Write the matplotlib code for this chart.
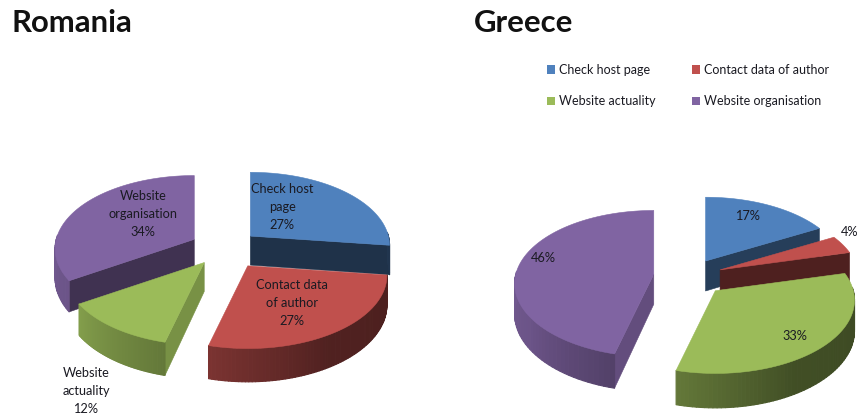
import numpy as np
import matplotlib
matplotlib.use("Agg")
import matplotlib.pyplot as plt
from matplotlib.collections import PolyCollection
from matplotlib.colors import to_rgb
from matplotlib.patches import Patch

categories = ["Check host page", "Website actuality", "Contact data of author", "Website organisation"]
colors = ["#4f81bd", "#c0504d", "#9bbb59", "#8064a2"]
legend_colors = ["#4f81bd", "#9bbb59", "#c0504d", "#8064a2"]
romania_values = [27, 27, 12, 34]
greece_values = [17, 4, 33, 46]
romania_explode = [0.25, 0.30, 0.25, 0.25]
greece_explode = [0.25, 0.25, 0.28, 0.25]

# Projection of the tilted pie, in figure pixels
RX, RY, PERSP = 138.0, 72.0, 0.129
TEXT = "#1a1a22"
FONT = "Lato"

plt.rcParams["font.family"] = FONT


def project(theta, origin, drop=0.0):
    """Map a rim angle (clockwise from the back) to screen pixels around origin."""
    u, v = np.sin(theta), np.cos(theta)
    w = 1 + PERSP * v
    return origin[0] + RX * u / w, origin[1] - RY * v / w + drop / w


def shade(color, factor):
    return tuple(c * factor for c in to_rgb(color))


def rim_shade(deg):
    return np.interp(deg % 360, [0, 90, 110, 150, 194, 237, 270, 360],
                     [0.42, 0.42, 0.40, 0.42, 0.64, 0.84, 0.88, 0.88])


def draw_pie(ax, values, explode, center, depth):
    edges = np.cumsum([0] + list(values)) / sum(values) * 2 * np.pi
    mids = (edges[:-1] + edges[1:]) / 2
    for i in np.argsort(-np.cos(mids)):
        a0, a1, mid, col = edges[i], edges[i + 1], mids[i], colors[i]
        origin = (center[0] + explode[i] * RX * np.sin(mid),
                  center[1] - explode[i] * RY * np.cos(mid))

        # Cut faces turned towards the viewer
        for theta, sign in ((a0, -1), (a1, 1)):
            nx, ny = sign * np.cos(theta), -sign * np.sin(theta)
            if ny < -1e-6:
                tx, ty = project(theta, origin)
                bx, by = project(theta, origin, depth)
                ax.fill([origin[0], tx, bx, origin[0]],
                        [origin[1], ty, by, origin[1] + depth],
                        color=shade(col, 0.38 + 0.42 * nx ** 2), lw=0.4)

        # Outer wall, shaded strip by strip; only the front of the rim shows
        th = np.linspace(a0, a1, 80)
        xt, yt = project(th, origin)
        xb, yb = project(th, origin, depth)
        front = [j for j in range(len(th) - 1) if np.cos((th[j] + th[j + 1]) / 2) < 0.05]
        quads = [[(xt[j], yt[j]), (xt[j + 1], yt[j + 1]), (xb[j + 1], yb[j + 1]), (xb[j], yb[j])]
                 for j in front]
        tones = [shade(col, rim_shade(np.degrees((th[j] + th[j + 1]) / 2))) for j in front]
        if quads:
            ax.add_collection(PolyCollection(quads, facecolors=tones, edgecolors=tones,
                                             linewidths=0.8), autolim=False)

        # Top surface
        ax.fill(np.r_[origin[0], xt], np.r_[origin[1], yt], color=col, lw=0.4)


fig = plt.figure(figsize=(8.58, 4.16), dpi=100)
ax = fig.add_axes([0, 0, 1, 1])
ax.set_xlim(0, 858)
ax.set_ylim(416, 0)
ax.axis("off")

draw_pie(ax, romania_values, romania_explode, (224.5, 248), 29)
draw_pie(ax, greece_values, greece_explode, (688, 276.5), 30)

ax.text(12, 23, "Romania", fontsize=22.4, fontweight="bold", color="#111111", va="center")
ax.text(474, 23, "Greece", fontsize=22.4, fontweight="bold", color="#111111", va="center")

# Slice captions
label_style = dict(fontsize=9.2, color=TEXT, ha="center", va="center", linespacing=1.62, clip_on=True)
romania_lines = ["Check host\npage", "Contact data\nof author", "Website\nactuality", "Website\norganisation"]
for text, value, pos in zip(romania_lines, romania_values,
                            [(282, 207), (292, 303), (86, 391), (143, 214)]):
    ax.text(*pos, f"{text}\n{value}%", **label_style)
for value, pos in zip(greece_values, [(747, 216), (849.5, 232), (795, 336), (543, 258)]):
    ax.text(*pos, f"{value}%", **label_style)

handles = [Patch(facecolor=c, edgecolor="none") for c in legend_colors]
ax.legend(handles, categories, ncol=2, frameon=False, fontsize=9, loc="upper left",
          bbox_to_anchor=(542 / 858, 1 - 59 / 416), handlelength=0.64, handleheight=0.64,
          handletextpad=0.3, columnspacing=2.95, labelspacing=1.55, labelcolor=TEXT,
          borderpad=0, borderaxespad=0.4)

fig.savefig("out.png", dpi=100)
